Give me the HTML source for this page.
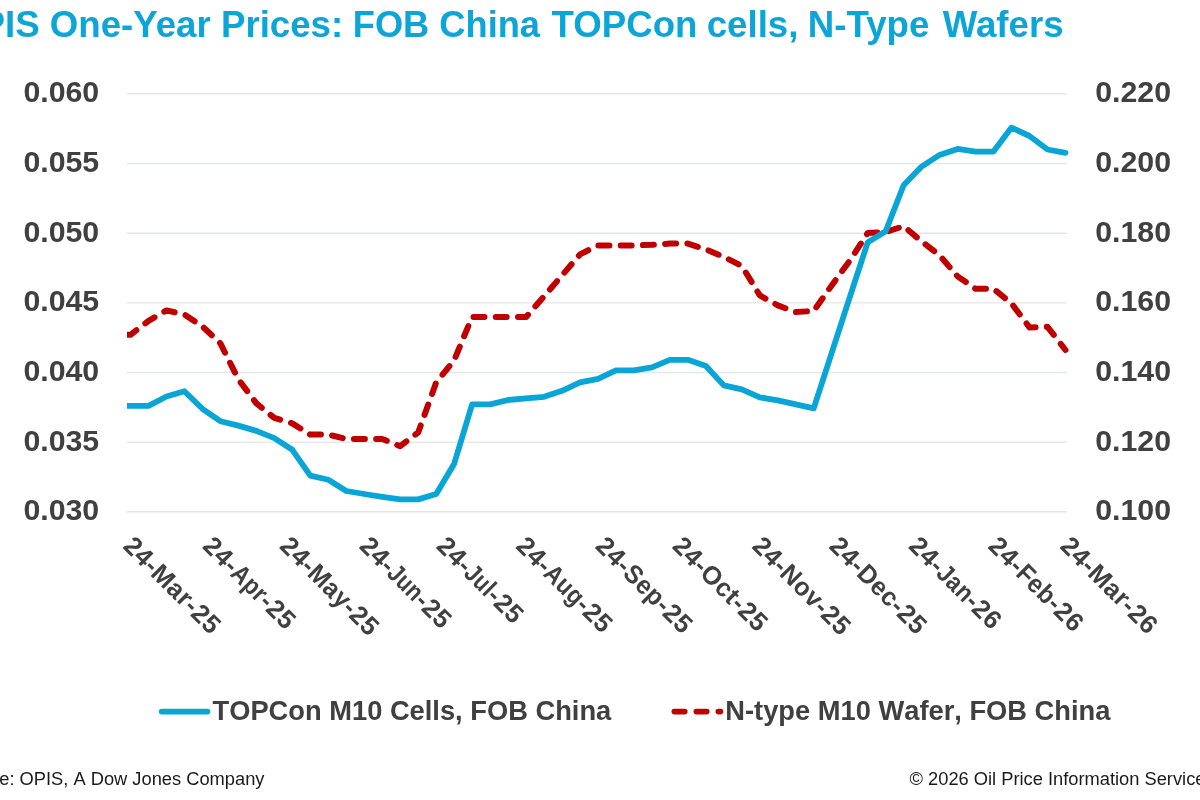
<!DOCTYPE html><html><head><meta charset="utf-8"><title>OPIS chart</title><style>
html,body{margin:0;padding:0;background:#fff}
body{width:1200px;height:800px;overflow:hidden;position:relative;font-family:"Liberation Sans",sans-serif}
svg{position:absolute;left:0;top:0;will-change:transform;filter:blur(0.45px)}
text{font-family:"Liberation Sans",sans-serif;font-kerning:none}
.b{font-weight:bold;fill:#404040}
text.t{font-kerning:normal}
</style></head><body>
<svg width="1200" height="800" viewBox="0 0 1200 800">
<line x1="127" x2="1067" y1="93.9" y2="93.9" stroke="#e3e6e6" stroke-width="1.35"/>
<line x1="127" x2="1067" y1="163.55" y2="163.55" stroke="#e3e6e6" stroke-width="1.35"/>
<line x1="127" x2="1067" y1="233.2" y2="233.2" stroke="#e3e6e6" stroke-width="1.35"/>
<line x1="127" x2="1067" y1="302.8" y2="302.8" stroke="#e3e6e6" stroke-width="1.35"/>
<line x1="127" x2="1067" y1="372.5" y2="372.5" stroke="#e3e6e6" stroke-width="1.35"/>
<line x1="127" x2="1067" y1="442.1" y2="442.1" stroke="#e3e6e6" stroke-width="1.35"/>
<line x1="127" x2="1067" y1="511.75" y2="511.75" stroke="#e3e6e6" stroke-width="1.35"/>
<g font-size="36.66" font-weight="bold" fill="#0ca5d7">
<text class="t" transform="translate(-48.0,37) scale(1,1)">OPIS One-Year Prices:</text>
<text class="t" transform="translate(352.8,37) scale(0.989,1)">FOB China</text>
<text class="t" transform="translate(551.5,37) scale(1,1)">TOPCon</text>
<text class="t" transform="translate(706.7,37) scale(1,1)">cells,</text>
<text class="t" transform="translate(807.8,37) scale(1,1)">N-Type</text>
<text class="t" transform="translate(942.7,37) scale(1,1)">Wafers</text>
</g>
<text class="b" x="23.4" y="102.35000000000001" font-size="30.3" letter-spacing="0">0.060</text>
<text class="b" x="1095.2" y="102.35000000000001" font-size="30.3" letter-spacing="0">0.220</text>
<text class="b" x="23.4" y="172.0" font-size="30.3" letter-spacing="0">0.055</text>
<text class="b" x="1095.2" y="172.0" font-size="30.3" letter-spacing="0">0.200</text>
<text class="b" x="23.4" y="241.64999999999998" font-size="30.3" letter-spacing="0">0.050</text>
<text class="b" x="1095.2" y="241.64999999999998" font-size="30.3" letter-spacing="0">0.180</text>
<text class="b" x="23.4" y="311.25" font-size="30.3" letter-spacing="0">0.045</text>
<text class="b" x="1095.2" y="311.25" font-size="30.3" letter-spacing="0">0.160</text>
<text class="b" x="23.4" y="380.95" font-size="30.3" letter-spacing="0">0.040</text>
<text class="b" x="1095.2" y="380.95" font-size="30.3" letter-spacing="0">0.140</text>
<text class="b" x="23.4" y="450.55" font-size="30.3" letter-spacing="0">0.035</text>
<text class="b" x="1095.2" y="450.55" font-size="30.3" letter-spacing="0">0.120</text>
<text class="b" x="23.4" y="520.2" font-size="30.3" letter-spacing="0">0.030</text>
<text class="b" x="1095.2" y="520.2" font-size="30.3" letter-spacing="0">0.100</text>
<clipPath id="cp"><rect x="127" y="60" width="960" height="480"/></clipPath>
<polyline clip-path="url(#cp)" points="127,334.8 130.5,334.8 148.5,320.9 166.5,310.4 184.4,314.4 202.4,326.4 220.4,343.4 238.4,379.4 256.4,403.4 274.3,417.9 292.3,423.4 310.3,434.6 328.3,434.6 346.3,439.0 364.2,439.0 382.2,439.0 400.2,446.2 418.2,432.4 436.2,382.4 454.1,360.4 472.1,317.0 490.1,317.0 508.1,317.0 526.1,317.0 544.0,296.4 562.0,275.4 580.0,254.4 598.0,245.4 616.0,245.4 633.9,245.4 651.9,244.8 669.9,243.6 687.9,243.6 705.9,249.4 723.8,256.9 741.8,265.9 759.8,295.4 777.8,305.4 795.8,312.0 813.7,311.0 831.7,285.4 849.7,260.8 867.7,233.0 885.7,232.0 903.6,226.2 921.6,241.4 939.6,255.4 957.6,276.4 975.6,288.8 993.5,288.8 1011.5,303.4 1029.5,327.4 1047.5,326.8 1065.5,350.0" fill="none" stroke="#c00000" stroke-width="6" stroke-linecap="round" stroke-linejoin="round" stroke-dasharray="11 11.25"/>
<polyline clip-path="url(#cp)" points="127,405.9 130.5,405.9 148.5,405.9 166.5,396.5 184.4,391.2 202.4,408.8 220.4,421.2 238.4,425.6 256.4,430.9 274.3,438.1 292.3,449.8 310.3,475.6 328.3,479.8 346.3,491.0 364.2,494.0 382.2,496.9 400.2,499.4 418.2,499.4 436.2,494.0 454.1,464.0 472.1,404.4 490.1,404.4 508.1,400.0 526.1,398.4 544.0,396.8 562.0,390.8 580.0,382.4 598.0,378.8 616.0,370.4 633.9,370.4 651.9,367.4 669.9,359.8 687.9,359.8 705.9,366.0 723.8,385.4 741.8,389.4 759.8,397.4 777.8,400.4 795.8,404.4 813.7,408.4 831.7,352.9 849.7,297.4 867.7,242.4 885.7,231.2 903.6,185.3 921.6,166.6 939.6,154.9 957.6,148.9 975.6,151.6 993.5,151.6 1011.5,127.6 1029.5,136.0 1047.5,149.5 1065.5,152.8" fill="none" stroke="#08a5d6" stroke-width="5.8" stroke-linecap="round" stroke-linejoin="round"/>
<g class="b" font-size="25.8" letter-spacing="0.55" transform="translate(122.0,547.2) rotate(45)"><text>24-</text><text transform="translate(38.93,0) scale(1.0000,1)">Mar</text><text x="86.45">-25</text></g>
<g class="b" font-size="25.8" letter-spacing="0.55" transform="translate(201.6,547.2) rotate(45)"><text>24-</text><text transform="translate(38.93,0) scale(0.8857,1)">Apr</text><text x="79.74">-25</text></g>
<g class="b" font-size="25.8" letter-spacing="0.55" transform="translate(278.6,547.2) rotate(45)"><text>24-</text><text transform="translate(38.93,0) scale(0.9595,1)">May</text><text x="88.66">-25</text></g>
<g class="b" font-size="25.8" letter-spacing="0.55" transform="translate(358.2,547.2) rotate(45)"><text>24-</text><text transform="translate(38.93,0) scale(0.8337,1)">Jun</text><text x="78.55">-25</text></g>
<g class="b" font-size="25.8" letter-spacing="0.55" transform="translate(435.2,547.2) rotate(45)"><text>24-</text><text transform="translate(38.93,0) scale(0.8356,1)">Jul</text><text x="71.46">-25</text></g>
<g class="b" font-size="25.8" letter-spacing="0.55" transform="translate(514.8,547.2) rotate(45)"><text>24-</text><text transform="translate(38.93,0) scale(0.8842,1)">Aug</text><text x="84.74">-25</text></g>
<g class="b" font-size="25.8" letter-spacing="0.55" transform="translate(594.3,547.2) rotate(45)"><text>24-</text><text transform="translate(38.93,0) scale(0.9544,1)">Sep</text><text x="85.66">-25</text></g>
<g class="b" font-size="25.8" letter-spacing="0.55" transform="translate(671.3,547.2) rotate(45)"><text>24-</text><text transform="translate(38.93,0) scale(0.9858,1)">Oct</text><text x="82.96">-25</text></g>
<g class="b" font-size="25.8" letter-spacing="0.55" transform="translate(750.9,547.2) rotate(45)"><text>24-</text><text transform="translate(38.93,0) scale(0.9729,1)">Nov</text><text x="87.95">-25</text></g>
<g class="b" font-size="25.8" letter-spacing="0.55" transform="translate(827.9,547.2) rotate(45)"><text>24-</text><text transform="translate(38.93,0) scale(0.9727,1)">Dec</text><text x="86.56">-25</text></g>
<g class="b" font-size="25.8" letter-spacing="0.55" transform="translate(907.5,547.2) rotate(45)"><text>24-</text><text transform="translate(38.93,0) scale(0.8857,1)">Jan</text><text x="79.77">-26</text></g>
<g class="b" font-size="25.8" letter-spacing="0.55" transform="translate(987.1,547.2) rotate(45)"><text>24-</text><text transform="translate(38.93,0) scale(0.9305,1)">Feb</text><text x="83.15">-26</text></g>
<g class="b" font-size="25.8" letter-spacing="0.55" transform="translate(1059.0,547.2) rotate(45)"><text>24-</text><text transform="translate(38.93,0) scale(1.0000,1)">Mar</text><text x="86.45">-26</text></g>
<line x1="161.6" x2="207.5" y1="711.6" y2="711.6" stroke="#08a5d6" stroke-width="5.6" stroke-linecap="round"/>
<text class="b" transform="translate(212.5,720.4) scale(0.975,1)" font-size="28">TOPCon M10 Cells, FOB China</text>
<line x1="674.3" x2="720.5" y1="711.6" y2="711.6" stroke="#c00000" stroke-width="5.6" stroke-linecap="round" stroke-dasharray="10.5 11.5"/>
<text class="b" transform="translate(725.3,720.4) scale(0.975,1)" font-size="28">N-type M10 Wafer, FOB China</text>
<text x="-48.5" y="785" font-size="18.3" fill="#1a1a1a">Source: OPIS, A Dow Jones Company</text>
<text x="909.5" y="785" font-size="18.3" fill="#1a1a1a">© 2026 Oil Price Information Service</text>
</svg></body></html>
